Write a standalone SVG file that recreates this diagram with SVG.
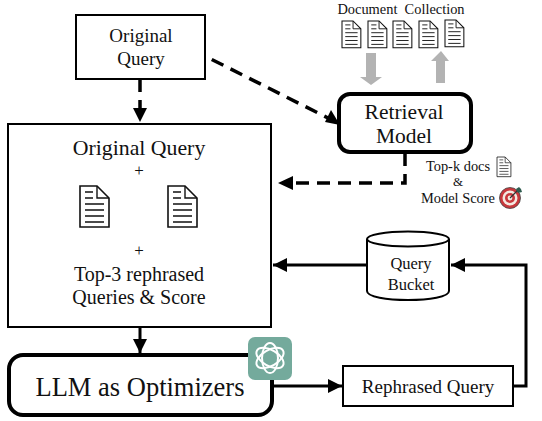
<svg xmlns="http://www.w3.org/2000/svg" width="542" height="421" viewBox="0 0 542 421">
<style>
text{font-family:"Liberation Serif","Times New Roman",serif;fill:#111;text-anchor:middle}
.box{fill:#fff;stroke:#000;stroke-width:2}
.bold{fill:#fff;stroke:#000;stroke-width:4}
.con{fill:none;stroke:#000;stroke-width:3}
.dash{fill:none;stroke:#000;stroke-width:3.5;stroke-dasharray:13 8}
.gray{fill:#b3b3b3}
.d-body{fill:#fff;stroke:#111;stroke-width:1.6}
.d-line{stroke:#111;stroke-width:1.4;fill:none}
</style>
<defs>
<marker id="ah" markerUnits="userSpaceOnUse" markerWidth="15" markerHeight="14" refX="14" refY="7" orient="auto"><path d="M0 0L14 7L0 14Z" fill="#000"/></marker>
<g id="doc">
<path class="d-body" d="M0 0H17L29 12V41H0Z"/>
<path class="d-line" d="M17 0V12H29M5 6H13M5 12H13M5 18H24M5 24H24M5 30H24M5 36H24"/>
</g>
</defs>
<g id="connectors">
<path class="dash" d="M193 50L330 119"/>
<path d="M340 125L325 122L331 110Z" fill="#000"/>
<path class="dash" d="M140 79V109"/>
<path d="M133 108H147L140 122Z" fill="#000"/>
<path class="dash" d="M405 153V183H292"/>
<path d="M293 176V190L278 183Z" fill="#000"/>
<path class="con" d="M140 327V353" marker-end="url(#ah)"/>
<path class="con" d="M367 265H273" marker-end="url(#ah)"/>
<path class="con" d="M273 386H342" marker-end="url(#ah)"/>
<path class="con" d="M513 386H526V265H451" marker-end="url(#ah)"/>
<path class="gray" d="M366 53H376V77H382L371 85L360 77H366Z"/>
<path class="gray" d="M436 83H445V61H449L441 51L431 61H436Z"/>
</g>
<g id="original-query">
<rect class="box" x="76" y="15" width="129" height="64"/>
<text x="141" y="42" font-size="19">Original</text>
<text x="141" y="65" font-size="19">Query</text>
</g>
<g id="document-collection">
<text x="401" y="14" font-size="14.4" xml:space="preserve">Document  Collection</text>
<use href="#doc" transform="translate(342 21) scale(.65)"/>
<use href="#doc" transform="translate(368 21) scale(.65)"/>
<use href="#doc" transform="translate(393 21) scale(.65)"/>
<use href="#doc" transform="translate(419 21) scale(.65)"/>
<use href="#doc" transform="translate(445 20) scale(.65)"/>
</g>
<g id="retrieval-model">
<rect class="bold" x="339" y="94" width="132" height="58" rx="11"/>
<text x="404" y="119" font-size="21.5">Retrieval</text>
<text x="404" y="143" font-size="21.5">Model</text>
</g>
<g id="topk">
<text x="458" y="171" font-size="14.4">Top-k docs</text>
<use href="#doc" transform="translate(497 157) scale(.48)"/>
<text x="458" y="186" font-size="13">&amp;</text>
<text x="458" y="203" font-size="14.4">Model Score</text>
<g id="target">
<circle cx="510" cy="198" r="10.5" fill="#c8383c" stroke="#444" stroke-width=".8"/>
<circle cx="510" cy="198" r="7.5" fill="#f3e9e0"/>
<circle cx="510" cy="198" r="5" fill="#c8383c"/>
<circle cx="510" cy="198" r="2.4" fill="#f3e9e0"/>
<path d="M510 198L518 190" stroke="#333" stroke-width="1.3"/>
<path d="M516 189L519 187L521 189L522 192L518 193Z" fill="#2f5d50"/>
</g>
</g>
<g id="prompt">
<rect class="box" x="8" y="124" width="263" height="203"/>
<text x="139" y="155" font-size="21.8">Original Query</text>
<text x="139" y="176" font-size="17">+</text>
<use href="#doc" transform="translate(80 186)"/>
<use href="#doc" transform="translate(168 186)"/>
<text x="139" y="256" font-size="17">+</text>
<text x="139" y="281" font-size="20">Top-3 rephrased</text>
<text x="139" y="304" font-size="20">Queries &amp; Score</text>
</g>
<g id="query-bucket">
<path class="box" d="M367 239V291C367 297 387 300 408 300S449 297 449 291V239"/>
<ellipse class="box" cx="408" cy="239" rx="41" ry="7.5"/>
<text x="411" y="269" font-size="16.5">Query</text>
<text x="411" y="290" font-size="16.5">Bucket</text>
</g>
<g id="llm">
<rect class="bold" x="9" y="355" width="263" height="60" rx="14"/>
<text x="140" y="396" font-size="26.5">LLM as Optimizers</text>
</g>
<g id="chatgpt-logo">
<rect x="248" y="337" width="44" height="43" rx="7" fill="#74aa9c"/>
<g fill="none" stroke="#fff" stroke-width="2">
<ellipse cx="270" cy="358" rx="15" ry="8" transform="rotate(30 270 358)"/>
<ellipse cx="270" cy="358" rx="15" ry="8" transform="rotate(90 270 358)"/>
<ellipse cx="270" cy="358" rx="15" ry="8" transform="rotate(150 270 358)"/>
</g>
</g>
<g id="rephrased-query">
<rect class="box" x="343" y="366" width="170" height="40"/>
<text x="428" y="393" font-size="19">Rephrased Query</text>
</g>
</svg>
